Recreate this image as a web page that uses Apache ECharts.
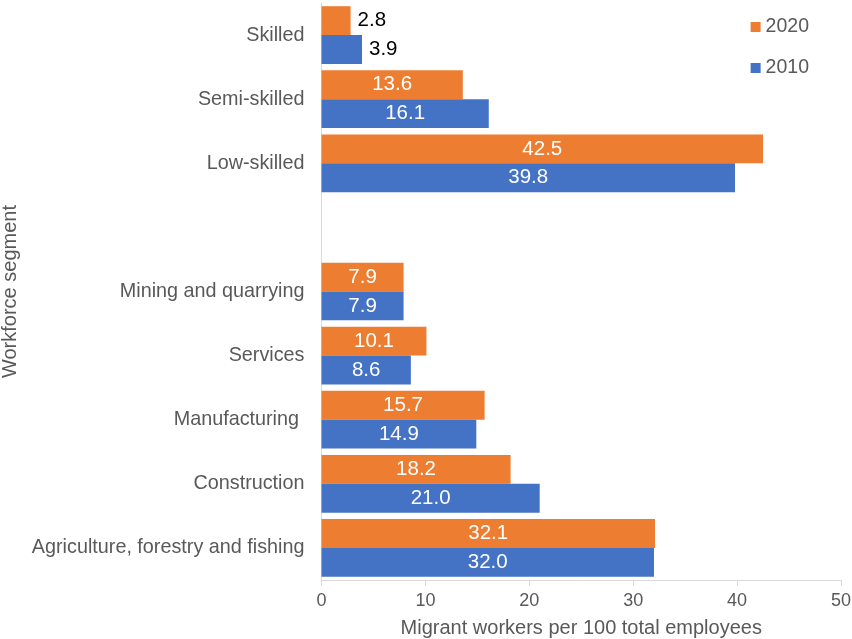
<!DOCTYPE html>
<html><head><meta charset="utf-8">
<script src="https://cdn.jsdelivr.net/npm/echarts@6/dist/echarts.min.js"></script>
<style>html,body{margin:0;padding:0;background:#fff}#c{width:852px;height:639px}</style>
</head><body><div id="c"></div>
<script>
const categories = ['Agriculture, forestry and fishing','Construction','Manufacturing ','Services','Mining and quarrying','','Low-skilled','Semi-skilled','Skilled'];
const values2020 = [32.1, 18.2, 15.7, 10.1, 7.9, null, 42.5, 13.6, 2.8];
const values2010 = [32.0, 21.0, 14.9, 8.6, 7.9, null, 39.8, 16.1, 3.9];
const xTicks = {min: 0, max: 50, interval: 10};

const font = 'Liberation Sans, Arial, sans-serif';
function mk(vals) {
  return vals.map(v => {
    if (v == null) return null;
    const small = v < 5;
    return {value: v, label: {show: true, position: small ? 'right' : 'inside', color: small ? '#000' : '#fff',
      fontSize: 20.5, fontFamily: font, formatter: p => p.value.toFixed(1), distance: 7}};
  });
}
const chart = echarts.init(document.getElementById('c'));
chart.setOption({
  animation: false,
  legend: {data: ['2020','2010'], orient: 'vertical', right: 38, top: 12, itemWidth: 10, itemHeight: 10, itemGap: 21,
    icon: 'rect', textStyle: {fontSize: 19.5, fontFamily: font, color: '#595959'}},
  grid: {left: 321.5, right: 11, top: 3, bottom: 59, containLabel: false, outerBoundsMode: 'none'},
  xAxis: {type: 'value', min: xTicks.min, max: xTicks.max, interval: xTicks.interval,
    name: 'Migrant workers per 100 total employees', nameLocation: 'middle', nameGap: 38,
    nameTextStyle: {fontSize: 20, fontFamily: font, color: '#595959'},
    axisLine: {show: true, lineStyle: {color: '#d9d9d9'}}, axisTick: {show: true, length: 6, lineStyle: {color: '#d9d9d9'}},
    splitLine: {show: false}, axisLabel: {fontSize: 18, fontFamily: font, color: '#595959', margin: 12}},
  yAxis: {type: 'category', data: categories, name: 'Workforce segment', nameLocation: 'middle', nameGap: 297,
    nameTextStyle: {fontSize: 20, fontFamily: font, color: '#595959'},
    axisLine: {show: true, lineStyle: {color: '#d9d9d9'}}, axisTick: {show: false},
    axisLabel: {fontSize: 19.8, fontFamily: font, color: '#595959', margin: 17}},
  series: [
    {name: '2020', type: 'bar', data: mk(values2020), itemStyle: {color: '#ED7D31'}, barGap: '0%', barCategoryGap: '10%'},
    {name: '2010', type: 'bar', data: mk(values2010), itemStyle: {color: '#4472C4'}, barGap: '0%', barCategoryGap: '10%'}
  ]
});
</script></body></html>
